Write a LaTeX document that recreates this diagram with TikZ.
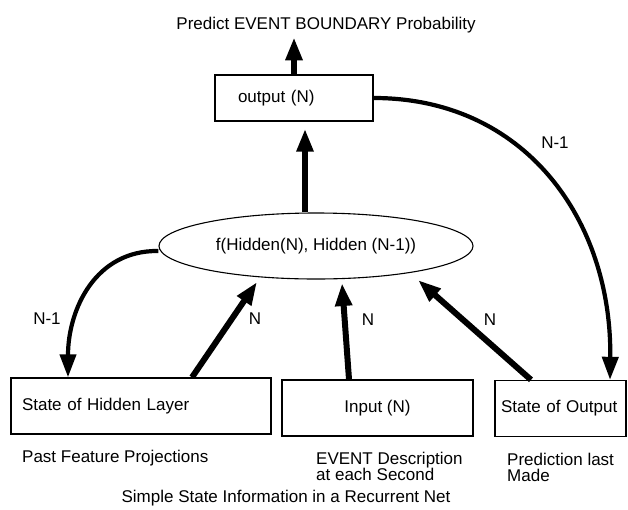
\documentclass[tikz,border=0pt]{standalone}
\usepackage{fontspec}
\setmainfont{Liberation Sans}
\usetikzlibrary{arrows.meta,shapes.geometric,calc}
\begin{document}
\begin{tikzpicture}[x=1pt,y=-1pt,
  every node/.style={font=\fontsize{17pt}{16pt}\selectfont},
  boxnode/.style={draw,line width=1.4pt,minimum height=#1,inner ysep=0pt},
  boxnode/.default=56pt,
  bigarrow/.style={line width=6pt,-{Triangle[length=23pt,width=16pt]}},
  curvearrow/.style={line width=4.2pt,-{Triangle[length=23pt,width=16pt]}},
  lbl/.style={inner sep=0pt}
]
\useasboundingbox (0,0) rectangle (628,509);
\fill[white] (0,0) rectangle (628,509);

\node[lbl] (title) at (326,25) {Predict EVENT BOUNDARY Probability};

\node[boxnode=46pt,text width=112pt,align=left,inner xsep=23pt] (out) at (294,98) {output (N)};

\node[draw,ellipse,line width=1.1pt,minimum width=314pt,minimum height=66pt,inner sep=0pt] (ell) at (316,246) {f(Hidden(N), Hidden (N-1))};

\node[boxnode,text width=238pt,align=left,inner xsep=11pt] (hid) at (141,406) {State of Hidden Layer};
\node[boxnode,minimum width=191pt] (inp) at (377.5,408) {Input (N)};
\node[boxnode,text width=119pt,align=left,inner xsep=6pt] (sto) at (560.5,408.5) {State of Output};

% arrows
\draw[bigarrow] (out.north) -- ($(out.north)+(0,-37)$) coordinate (titletip);
\draw[bigarrow] ($(ell.north)+(-11,0)$) -- ($(out.south)+(11,7)$);
\draw[bigarrow] ($(hid.north)+(51,0)$) -- ($(ell.center)+(-59,36)$);
\draw[bigarrow] ($(inp.north)+(-28.5,0)$) -- ($(ell.center)+(26,37)$);
\draw[bigarrow] ($(sto.north)+(-29.5,0)$) -- ($(ell.center)+(102,34)$);

\draw[curvearrow] (out.east) .. controls (525,98) and (612,220) .. ($(sto.north)+(49.5,0)$);
\draw[curvearrow] ($(ell.west)+(0,5)$) .. controls (95,250) and (68,310) .. ($(hid.north)+(-73,0)$);

% labels
\node[lbl] (l1) at (555,143) {N-1};
\node[lbl] (l2) at (47,319) {N-1};
\node[lbl] (l3) at (255,319) {N};
\node[lbl] (l4) at (368,320) {N};
\node[lbl] (l5) at (490,320) {N};

% captions
\node[lbl,anchor=west] (c1) at (22,458) {Past Feature Projections};
\node[lbl,anchor=west,align=left] (c2) at (316,466) {EVENT Description\\at each Second};
\node[lbl,anchor=west,align=left] (c3) at (507,467) {Prediction last\\Made};
\node[lbl] (c4) at (286,498) {Simple State Information in a Recurrent Net};
\end{tikzpicture}
\end{document}
